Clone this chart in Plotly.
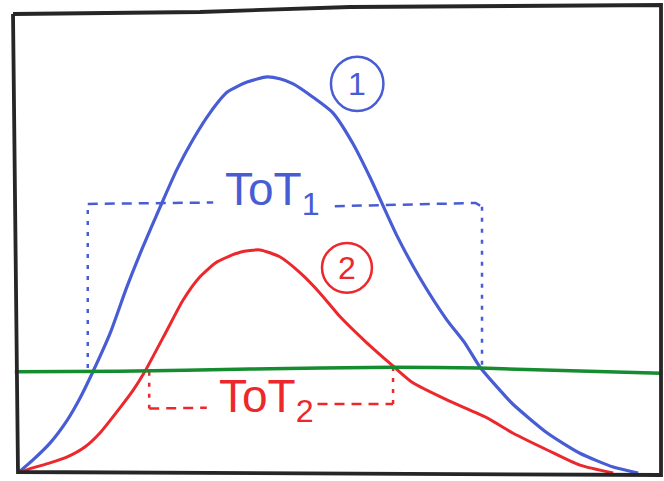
import plotly.graph_objects as go

# Pulse 1 (large signal): time vs amplitude
t_pulse1 = [0.3, 2.3, 5.0, 7.7, 9.7, 11.7, 14.4, 17.0, 19.5, 22.2, 24.8, 27.3, 30.0,
            32.7, 35.8, 38.9, 40.9, 43.0, 46.1, 49.2, 52.3, 55.0, 59.2, 62.8,
            67.0, 69.8, 72.2, 75.3, 77.3, 82.7, 87.8, 93.0, 96.9]
a_pulse1 = [0.4, 2.8, 6.5, 11.5, 16.3, 22.0, 30.4, 40.4, 49.1, 57.8, 65.9, 72.4, 78.3,
            82.8, 85.0, 86.1, 85.7, 84.6, 81.7, 78.3, 71.7, 64.3, 51.6, 42.4,
            33.3, 28.3, 23.0, 18.0, 15.0, 8.7, 4.3, 1.3, 0.0]

# Pulse 2 (small signal)
t_pulse2 = [0.3, 2.3, 5.0, 7.7, 10.5, 12.8, 15.9, 18.0, 19.8, 23.3, 25.8, 28.4, 31.1,
            34.7, 37.8, 40.9, 44.1, 47.2, 50.3, 54.5, 58.4, 61.7, 67.0, 73.3, 77.3,
            82.7, 87.8, 93.0]
a_pulse2 = [0.2, 1.1, 2.2, 3.5, 5.7, 8.7, 14.1, 18.0, 22.0, 31.1, 37.6, 42.6, 45.9,
            48.0, 48.5, 47.0, 43.5, 39.1, 34.0, 28.3, 23.5, 19.6, 15.9, 12.0, 8.7,
            5.0, 1.7, 0.0]

# Discriminator threshold
t_thr = [-0.5, 15.9, 36.3, 58.6, 72.2, 100.5]
a_thr = [22.0, 22.1, 22.6, 23.0, 22.8, 21.7]

# Time-over-threshold intervals (start, end) and the level of their markers
tot1 = [10.9, 72.5]
tot1_level = 58.5
tot2 = [20.5, 58.6]
tot2_level = 14.0

tot_labels = ["ToT<sub>1</sub>", "ToT<sub>2</sub>"]
pulse_ids = ["1", "2"]

BLUE = "rgb(72,92,212)"
RED = "rgb(236,40,44)"
GREEN = "rgb(22,140,48)"
INK = "rgb(38,38,38)"
FONT = "Liberation Sans"

W, H = 664, 481
XR = [-2.8125, 100.9375]
YR = [-1.739, 102.826]

fig = go.Figure()

# ToT1 box (dashed, drawn behind the pulses)
hd = "10px,7px"
vd = "4px,7px"
thr_left1, thr_right1 = 22.8, 22.8
fig.add_trace(go.Scatter(x=[tot1[0], tot1[0]], y=[thr_left1, tot1_level], mode="lines",
                         line=dict(color=BLUE, width=2.5, dash=vd)))
fig.add_trace(go.Scatter(x=[tot1[0], 30.5], y=[tot1_level, tot1_level + 0.3], mode="lines",
                         line=dict(color=BLUE, width=2.5, dash=hd)))
fig.add_trace(go.Scatter(x=[49.5, tot1[1] - 1.0, tot1[1]], y=[tot1_level - 0.5, tot1_level + 0.2, tot1_level - 0.6],
                         mode="lines", line=dict(color=BLUE, width=2.5, dash=hd)))
fig.add_trace(go.Scatter(x=[tot1[1], tot1[1]], y=[tot1_level - 0.6, thr_right1], mode="lines",
                         line=dict(color=BLUE, width=2.5, dash=vd)))

# ToT2 bracket
fig.add_trace(go.Scatter(x=[tot2[0], tot2[0]], y=[22.0, tot2_level], mode="lines",
                         line=dict(color=RED, width=2.5, dash=vd)))
fig.add_trace(go.Scatter(x=[tot2[0], 29.5], y=[tot2_level, tot2_level + 0.2], mode="lines",
                         line=dict(color=RED, width=2.5, dash=hd)))
fig.add_trace(go.Scatter(x=[46.8, tot2[1]], y=[tot2_level + 1.0, tot2_level + 1.0], mode="lines",
                         line=dict(color=RED, width=2.5, dash=hd)))
fig.add_trace(go.Scatter(x=[tot2[1], tot2[1]], y=[tot2_level + 1.0, 23.0], mode="lines",
                         line=dict(color=RED, width=2.5, dash=vd)))

# Pulses and threshold
fig.add_trace(go.Scatter(x=t_pulse1, y=a_pulse1, mode="lines",
                         line=dict(color=BLUE, width=3.2, shape="spline", smoothing=0.6)))
fig.add_trace(go.Scatter(x=t_pulse2, y=a_pulse2, mode="lines",
                         line=dict(color=RED, width=3, shape="spline", smoothing=0.6)))
fig.add_trace(go.Scatter(x=t_thr, y=a_thr, mode="lines",
                         line=dict(color=GREEN, width=3.5, shape="spline", smoothing=0.5)))

# ToT labels
fig.add_annotation(x=(tot1[0] + tot1[1]) / 2 - 2.0, y=tot1_level + 2.5, text=tot_labels[0],
                   showarrow=False, font=dict(family=FONT, size=46, color=BLUE))
fig.add_annotation(x=(tot2[0] + tot2[1]) / 2 - 0.8, y=tot2_level + 2.0, text=tot_labels[1],
                   showarrow=False, font=dict(family=FONT, size=46, color=RED))

# Circled pulse numbers
circles = [(53.0, 84.6, 4.1, 5.9, BLUE), (51.4, 44.6, 3.9, 5.4, RED)]
for pid, (cx, cy, rx, ry, col) in zip(pulse_ids, circles):
    fig.add_shape(type="circle", xref="x", yref="y", x0=cx - rx, x1=cx + rx,
                  y0=cy - ry, y1=cy + ry, line=dict(color=col, width=2.5))
    fig.add_annotation(x=cx, y=cy, text=pid, showarrow=False,
                       font=dict(family=FONT, size=32, color=col))

# Hand-drawn frame around the sketch (paper coordinates)
def pp(px, py):
    return f"{px / W:.4f},{1 - py / H:.4f}"

frame_pts = [(13, 14), (200, 12), (350, 7), (661, 5),
             (661, 475), (18, 472), (13, 14)]
path = "M " + " L ".join(pp(x, y) for x, y in frame_pts)
fig.add_shape(type="path", xref="paper", yref="paper", path=path,
              line=dict(color=INK, width=3.8), layer="above")

fig.update_layout(
    width=W, height=H, margin=dict(l=0, r=0, t=0, b=0),
    paper_bgcolor="white", plot_bgcolor="white", showlegend=False,
    xaxis=dict(range=XR, visible=False, fixedrange=True),
    yaxis=dict(range=YR, visible=False, fixedrange=True),
)

fig.write_html("out.html")
